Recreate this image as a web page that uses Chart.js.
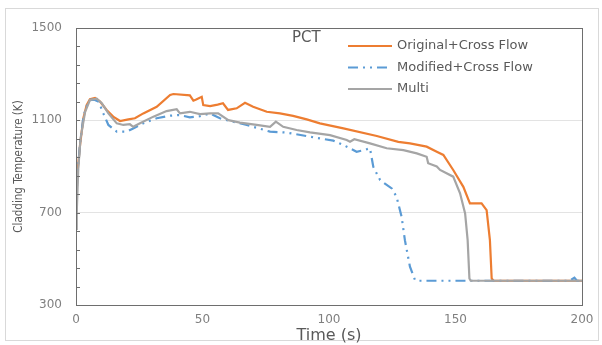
<!DOCTYPE html>
<html>
<head>
<meta charset="utf-8">
<script src="https://cdn.jsdelivr.net/npm/chart.js@4"></script>
<style>
  body { margin: 0; background: #fff; }
  #marco { position: absolute; left: 5px; top: 8px; width: 592px; height: 331px; border: 1px solid #d9d9d9; }
  #grafica { position: absolute; left: 0; top: 0; }
</style>
</head>
<body>
<div id="marco"></div>
<canvas id="grafica" width="602" height="345"></canvas>
<script>
// datos (tiempo en s, temperatura en K)
const origTime = [0, 0.5, 1.6, 2.9, 4.2, 5.5, 7.5, 9.5, 12.1, 14.7, 17.4, 20.7, 23.3, 26.6, 31.9, 37.2, 38.5, 45, 46.4, 47.5, 49.7, 50.3, 53, 56, 58.1, 60.1, 63.5, 66.8, 70, 75.4, 80.6, 85.8, 91.2, 96.4, 105.7, 118.9, 127.4, 132, 138.6, 142.6, 145.2, 149.1, 153.1, 155.7, 160.3, 162.3, 163.6, 164.3, 165, 200];
const origTemp = [690, 863, 993, 1109, 1166, 1192, 1197, 1181, 1145, 1116, 1097, 1104, 1109, 1130, 1159, 1210, 1214, 1208, 1185, 1190, 1202, 1166, 1162, 1168, 1174, 1145, 1152, 1176, 1159, 1137, 1130, 1119, 1104, 1087, 1065, 1032, 1007, 1000, 986, 964, 950, 885, 812, 740, 740, 711, 581, 415, 405, 405];

const modTime = [0, 0.5, 1.6, 3, 4.5, 6, 7.5, 9, 10.8, 12.8, 16.1, 20, 22.6, 26.6, 31.9, 37.2, 41, 45, 49, 53, 56.9, 62.2, 67.5, 76.7, 83.3, 92.5, 101.7, 105.7, 110.9, 113.5, 116.2, 117.5, 120.2, 124.8, 126.7, 128.7, 130, 132, 134, 135, 195, 197, 198, 200];
const modTemp = [690, 850, 1000, 1120, 1170, 1190, 1188, 1180, 1130, 1080, 1051, 1051, 1065, 1087, 1109, 1120, 1123, 1113, 1118, 1130, 1109, 1094, 1080, 1051, 1047, 1029, 1012, 993, 964, 970, 979, 899, 841, 805, 769, 682, 581, 466, 408, 405, 405, 418, 405, 405];

const multiTime = [0, 0.3, 0.9, 1.8, 3.6, 5.5, 8.2, 10.2, 12.8, 16.1, 18.7, 21.3, 22.6, 25.3, 30.6, 35.8, 39.8, 41.1, 45, 49, 53, 56.2, 60.2, 64.8, 71.4, 76.7, 79, 81.9, 87.2, 92.5, 100.4, 107, 108.3, 110, 116.2, 122.8, 129.4, 134.7, 138.6, 139.2, 142.6, 143.9, 149.1, 151.8, 153.8, 154.8, 155.5, 156, 200];
const multiTemp = [630, 704, 892, 1022, 1137, 1188, 1194, 1174, 1130, 1087, 1080, 1083, 1072, 1087, 1116, 1140, 1148, 1130, 1137, 1127, 1130, 1130, 1101, 1090, 1080, 1072, 1094, 1072, 1058, 1048, 1036, 1015, 1007, 1018, 1000, 979, 971, 957, 942, 914, 900, 885, 856, 784, 697, 581, 415, 405, 405];

const nombresSeries = ['Original+Cross Flow', 'Modified+Cross Flow', 'Multi'];
const xTicks = [0, 50, 100, 150, 200];
const yTicks = [300, 700, 1100, 1500];

const colores = ['#ED7D31', '#5B9BD5', '#A5A5A5'];
const guiones = [[], [10, 5, 2, 5, 2, 5], []];

const juntar = (t, v) => t.map((x, i) => ({ x: x, y: v[i] }));
const series = [juntar(origTime, origTemp), juntar(modTime, modTemp), juntar(multiTime, multiTemp)];

// titulo PCT, leyenda, marco del area y marcas menores del eje y
const extras = {
  id: 'extras',
  afterDraw(chart) {
    const ctx = chart.ctx;
    const a = chart.chartArea;
    const ys = chart.scales.y;
    ctx.save();
    ctx.strokeStyle = '#6e6e6e';
    ctx.lineWidth = 1;
    ctx.strokeRect(Math.round(a.left) + 0.5, Math.round(a.top) + 0.5, Math.round(a.right - a.left), Math.round(a.bottom - a.top));
    // marcas menores cada 80 K
    for (let v = 300; v <= 1500; v += 80) {
      const py = Math.round(ys.getPixelForValue(v)) + 0.5;
      ctx.beginPath();
      ctx.moveTo(a.left, py);
      ctx.lineTo(a.left + 4, py);
      ctx.stroke();
    }
    ctx.fillStyle = '#595959';
    ctx.font = '15px "DejaVu Sans"';
    ctx.textBaseline = 'middle';
    ctx.textAlign = 'left';
    ctx.fillText('PCT', 292, 38);
    ctx.font = '13px "DejaVu Sans"';
    for (let i = 0; i < nombresSeries.length; i++) {
      const y = 46 + i * 21.5;
      ctx.strokeStyle = colores[i];
      ctx.lineWidth = 2;
      ctx.setLineDash(guiones[i]);
      ctx.beginPath();
      ctx.moveTo(348, y);
      ctx.lineTo(392, y);
      ctx.stroke();
      ctx.setLineDash([]);
      ctx.fillText(nombresSeries[i], 397, y);
    }
    ctx.restore();
  }
};

new Chart(document.getElementById('grafica'), {
  type: 'line',
  data: {
    datasets: series.map((d, i) => ({
      label: nombresSeries[i],
      data: d,
      borderColor: colores[i],
      borderWidth: 2.2,
      borderDash: guiones[i],
      pointRadius: 0,
      tension: 0,
      fill: false
    })).reverse()
  },
  options: {
    responsive: false,
    animation: false,
    devicePixelRatio: 1,
    layout: { padding: { left: 0, right: 20, top: 28, bottom: 0 } },
    plugins: { legend: { display: false }, tooltip: { enabled: false } },
    scales: {
      x: {
        type: 'linear',
        min: 0, max: 200,
        afterBuildTicks: (s) => { s.ticks = xTicks.map(v => ({ value: v })); },
        afterFit: (s) => { s.height = 40; },
        grid: { display: false, drawTicks: false },
        border: { display: true, color: '#6e6e6e' },
        ticks: { color: '#7f7f7f', font: { family: 'DejaVu Sans', size: 12 }, padding: 8, maxRotation: 0, callback: (v) => String(v) },
        title: { display: true, text: 'Time (s)', color: '#595959', font: { family: 'DejaVu Sans', size: 16 }, padding: { top: 0, bottom: 0 } }
      },
      y: {
        min: 300, max: 1500,
        afterBuildTicks: (s) => { s.ticks = yTicks.map(v => ({ value: v })); },
        afterFit: (s) => { s.width = 76; },
        grid: { color: '#e3e3e3', drawTicks: false },
        border: { display: true, color: '#6e6e6e' },
        ticks: { color: '#7f7f7f', font: { family: 'DejaVu Sans', size: 12 }, padding: 14, callback: (v) => String(v) },
        title: { display: true, text: 'Cladding Temperature (K)', color: '#595959', font: { family: 'Liberation Sans Narrow, DejaVu Sans Condensed', size: 11.5 }, padding: { top: 12, bottom: 0 } }
      }
    }
  },
  plugins: [extras]
});
</script>
</body>
</html>
